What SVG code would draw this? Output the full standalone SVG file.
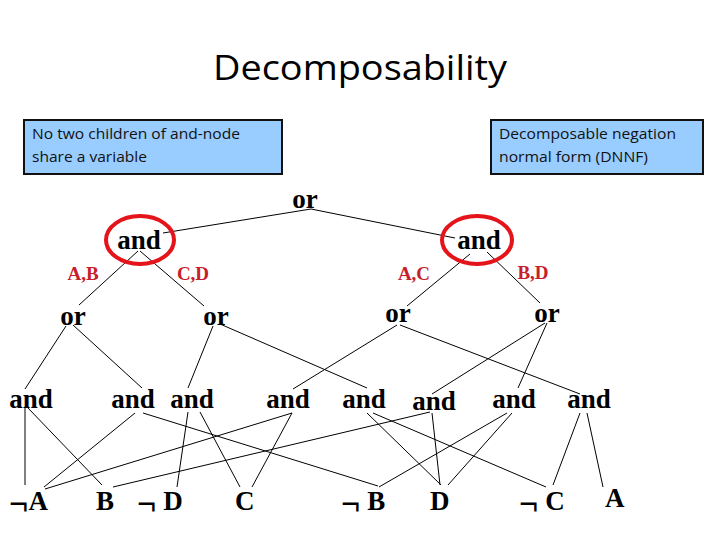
<svg xmlns="http://www.w3.org/2000/svg" width="720" height="540" viewBox="0 0 720 540">
<style>
.title{font-family:"Open Sans","Liberation Sans",sans-serif;font-size:35px;fill:#000}
.box{fill:#99CCFF;stroke:#111;stroke-width:2}
.bt{font-family:"Open Sans","Liberation Sans",sans-serif;font-size:14px;fill:#111}
.n{font-family:"Liberation Serif","Times New Roman",serif;font-weight:bold;font-size:27px;fill:#000;text-anchor:middle}
.l{font-family:"Liberation Serif","Times New Roman",serif;font-weight:bold;font-size:27px;fill:#000}
.neg{font-size:34px}
.lab{font-family:"Liberation Serif","Times New Roman",serif;font-weight:bold;font-size:19px;fill:#C8202A;text-anchor:middle}
.ring{fill:none;stroke:#E5141B;stroke-width:4}
#edges line{stroke:#000;stroke-width:1}
</style>
<rect width="720" height="540" fill="#fff"/>
<text class="title" x="213" y="80" textLength="294" lengthAdjust="spacingAndGlyphs">Decomposability</text>
<g id="note1">
<rect class="box" x="24" y="120" width="258" height="54"/>
<text class="bt" x="32" y="139" textLength="208" lengthAdjust="spacingAndGlyphs">No two children of and-node</text>
<text class="bt" x="32" y="162" textLength="115" lengthAdjust="spacingAndGlyphs">share a variable</text>
</g>
<g id="note2">
<rect class="box" x="491" y="120" width="212" height="54"/>
<text class="bt" x="499" y="139" textLength="177" lengthAdjust="spacingAndGlyphs">Decomposable negation</text>
<text class="bt" x="499" y="162" textLength="149" lengthAdjust="spacingAndGlyphs">normal form (DNNF)</text>
</g>
<g id="edges">
<line x1="311" y1="209" x2="163" y2="233"/>
<line x1="311" y1="209" x2="455" y2="238"/>
<line x1="138" y1="251" x2="79" y2="305"/>
<line x1="140" y1="251" x2="204" y2="306"/>
<line x1="470" y1="254" x2="407" y2="306"/>
<line x1="487" y1="252" x2="540" y2="303"/>
<line x1="66" y1="326" x2="25" y2="389"/>
<line x1="73" y1="325" x2="142" y2="388"/>
<line x1="213" y1="326" x2="188" y2="388"/>
<line x1="220" y1="324" x2="367" y2="388"/>
<line x1="397" y1="325" x2="293" y2="389"/>
<line x1="400" y1="325" x2="580" y2="394"/>
<line x1="545" y1="323" x2="432" y2="394"/>
<line x1="547" y1="323" x2="518" y2="388"/>
<line x1="25" y1="408" x2="25" y2="485"/>
<line x1="28" y1="408" x2="102" y2="485"/>
<line x1="135" y1="413" x2="44" y2="487"/>
<line x1="143" y1="413" x2="378" y2="486"/>
<line x1="188" y1="412" x2="177" y2="487"/>
<line x1="200" y1="412" x2="240" y2="487"/>
<line x1="292" y1="413" x2="45" y2="489"/>
<line x1="292" y1="413" x2="252" y2="487"/>
<line x1="367" y1="413" x2="441" y2="485"/>
<line x1="373" y1="413" x2="546" y2="487"/>
<line x1="430" y1="412" x2="113" y2="487"/>
<line x1="432" y1="413" x2="440" y2="485"/>
<line x1="507" y1="413" x2="379" y2="487"/>
<line x1="512" y1="413" x2="448" y2="485"/>
<line x1="580" y1="413" x2="553" y2="485"/>
<line x1="587" y1="413" x2="603" y2="487"/>
<text class="lab" x="83" y="280">A,B</text>
<text class="lab" x="193" y="280">C,D</text>
<text class="lab" x="414" y="280">A,C</text>
<text class="lab" x="533" y="279">B,D</text>
</g>
<g id="root"><text class="n" x="305" y="208">or</text></g>
<g id="and-left"><ellipse class="ring" cx="140" cy="240" rx="34" ry="24"/><text class="n" x="139" y="249">and</text></g>
<g id="and-right"><ellipse class="ring" cx="477" cy="240" rx="35" ry="24"/><text class="n" x="479" y="249">and</text></g>
<g id="or1"><text class="n" x="73" y="325">or</text></g>
<g id="or2"><text class="n" x="216" y="325">or</text></g>
<g id="or3"><text class="n" x="398" y="322">or</text></g>
<g id="or4"><text class="n" x="547" y="322">or</text></g>
<g id="and1"><text class="n" x="31" y="408">and</text></g>
<g id="and2"><text class="n" x="133" y="408">and</text></g>
<g id="and3"><text class="n" x="192" y="408">and</text></g>
<g id="and4"><text class="n" x="288" y="408">and</text></g>
<g id="and5"><text class="n" x="364" y="408">and</text></g>
<g id="and6"><text class="n" x="434" y="410">and</text></g>
<g id="and7"><text class="n" x="514" y="408">and</text></g>
<g id="and8"><text class="n" x="589" y="408">and</text></g>
<g id="notA"><text class="l" x="9" y="510"><tspan class="neg" dy="5">¬</tspan><tspan dy="-5">A</tspan></text></g>
<g id="B"><text class="l" x="96" y="510">B</text></g>
<g id="notD"><text class="l" x="137" y="510"><tspan class="neg" dy="5">¬</tspan><tspan dy="-5"> D</tspan></text></g>
<g id="C"><text class="l" x="235" y="510">C</text></g>
<g id="notB"><text class="l" x="341" y="510"><tspan class="neg" dy="5">¬</tspan><tspan dy="-5"> B</tspan></text></g>
<g id="D"><text class="l" x="430" y="510">D</text></g>
<g id="notC"><text class="l" x="519" y="510"><tspan class="neg" dy="5">¬</tspan><tspan dy="-5"> C</tspan></text></g>
<g id="A"><text class="l" x="605" y="507">A</text></g>
</svg>
